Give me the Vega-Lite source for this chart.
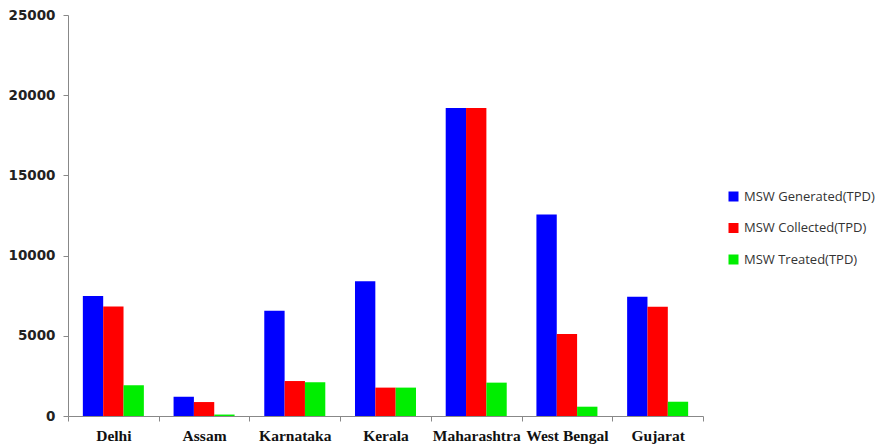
{
  "$schema": "https://vega.github.io/schema/vega-lite/v6.json",
  "width": 635,
  "height": 401,
  "autosize": "none",
  "padding": {"left": 68, "top": 15, "right": 180, "bottom": 30},
  "background": "white",
  "config": {"view": {"stroke": null}},
  "data": {
    "values": [
      {"state": "Delhi", "measure": "MSW Generated(TPD)", "tpd": 7480},
      {"state": "Delhi", "measure": "MSW Collected(TPD)", "tpd": 6820},
      {"state": "Delhi", "measure": "MSW Treated(TPD)", "tpd": 1920},
      {"state": "Assam", "measure": "MSW Generated(TPD)", "tpd": 1200},
      {"state": "Assam", "measure": "MSW Collected(TPD)", "tpd": 870},
      {"state": "Assam", "measure": "MSW Treated(TPD)", "tpd": 90},
      {"state": "Karnataka", "measure": "MSW Generated(TPD)", "tpd": 6560},
      {"state": "Karnataka", "measure": "MSW Collected(TPD)", "tpd": 2180},
      {"state": "Karnataka", "measure": "MSW Treated(TPD)", "tpd": 2100},
      {"state": "Kerala", "measure": "MSW Generated(TPD)", "tpd": 8400},
      {"state": "Kerala", "measure": "MSW Collected(TPD)", "tpd": 1770},
      {"state": "Kerala", "measure": "MSW Treated(TPD)", "tpd": 1770},
      {"state": "Maharashtra", "measure": "MSW Generated(TPD)", "tpd": 19200},
      {"state": "Maharashtra", "measure": "MSW Collected(TPD)", "tpd": 19200},
      {"state": "Maharashtra", "measure": "MSW Treated(TPD)", "tpd": 2080},
      {"state": "West Bengal", "measure": "MSW Generated(TPD)", "tpd": 12570},
      {"state": "West Bengal", "measure": "MSW Collected(TPD)", "tpd": 5110},
      {"state": "West Bengal", "measure": "MSW Treated(TPD)", "tpd": 580},
      {"state": "Gujarat", "measure": "MSW Generated(TPD)", "tpd": 7440},
      {"state": "Gujarat", "measure": "MSW Collected(TPD)", "tpd": 6815},
      {"state": "Gujarat", "measure": "MSW Treated(TPD)", "tpd": 890}
    ]
  },
  "mark": {"type": "bar"},
  "encoding": {
    "x": {
      "field": "state",
      "type": "nominal",
      "sort": null,
      "scale": {"paddingInner": 0, "paddingOuter": 0},
      "axis": {
        "title": null,
        "tickBand": "extent",
        "labelAngle": 0,
        "labelFont": "Liberation Serif",
        "labelFontWeight": "bold",
        "labelFontSize": 15.5,
        "labelColor": "#111111",
        "labelPadding": 7,
        "tickSize": 5,
        "tickColor": "#888888",
        "domainColor": "#888888",
        "labelOverlap": false
      }
    },
    "xOffset": {
      "field": "measure",
      "type": "nominal",
      "sort": null,
      "scale": {"paddingInner": 0, "paddingOuter": 0.73}
    },
    "y": {
      "field": "tpd",
      "type": "quantitative",
      "scale": {"domain": [0, 25000], "nice": false},
      "axis": {
        "title": null,
        "values": [0, 5000, 10000, 15000, 20000, 25000],
        "format": "d",
        "grid": false,
        "labelFont": "DejaVu Sans",
        "labelFontWeight": "bold",
        "labelFontSize": 13.5,
        "labelColor": "#222222",
        "labelPadding": 8,
        "tickSize": 5,
        "tickColor": "#888888",
        "domainColor": "#888888"
      }
    },
    "color": {
      "field": "measure",
      "type": "nominal",
      "sort": null,
      "scale": {
        "domain": ["MSW Generated(TPD)", "MSW Collected(TPD)", "MSW Treated(TPD)"],
        "range": ["#0000FF", "#FF0000", "#00EE00"]
      },
      "legend": {
        "title": null,
        "orient": "none",
        "legendX": 659,
        "legendY": 175,
        "padding": 0,
        "symbolType": "square",
        "symbolSize": 100,
        "symbolStrokeWidth": 0,
        "labelFont": "Open Sans",
        "labelFontSize": 13,
        "labelColor": "#333333",
        "labelOffset": 4,
        "rowPadding": 17.5
      }
    }
  }
}
